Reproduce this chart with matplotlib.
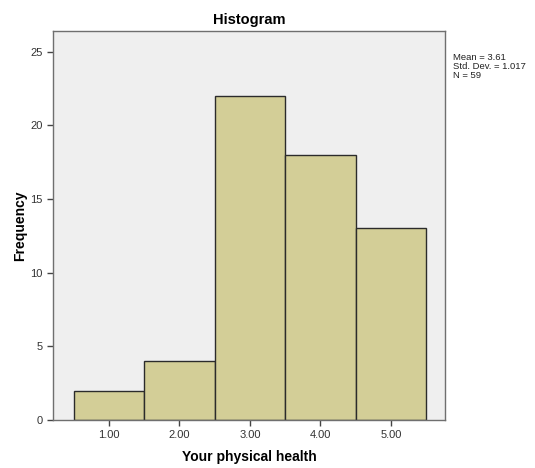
import matplotlib
matplotlib.use('Agg')
import matplotlib.pyplot as plt

# Histogram data
categories = [1.0, 2.0, 3.0, 4.0, 5.0]
frequencies = [2, 4, 22, 18, 13]
tick_labels = ['1.00', '2.00', '3.00', '4.00', '5.00']
y_ticks = [0, 5, 10, 15, 20, 25]
stats_text = 'Mean = 3.61\nStd. Dev. = 1.017\nN = 59'

plt.rcParams['font.family'] = ['Liberation Sans', 'DejaVu Sans']

fig = plt.figure(figsize=(5.35, 4.68), dpi=100)
ax = fig.add_axes([0.099, 0.1026, 0.733, 0.8314])
ax.set_facecolor('#efefef')

ax.bar(categories, frequencies, width=1.0, color='#d3ce97',
       edgecolor='#2b2b2b', linewidth=1.0)

ax.set_xlim(0.206, 5.77)
ax.set_ylim(0, 26.4)
ax.set_xticks(categories)
ax.set_xticklabels(tick_labels)
ax.set_yticks(y_ticks)
ax.tick_params(axis='both', direction='out', length=4, width=1,
               color='#444444', labelsize=8, labelcolor='#333333')
for s in ax.spines.values():
    s.set_color('#6f6f6f')
    s.set_linewidth(1.0)

ax.set_title('Histogram', fontsize=10.5, fontweight='bold', pad=5)
ax.set_xlabel('Your physical health', fontsize=10, fontweight='bold', labelpad=7)
ax.set_ylabel('Frequency', fontsize=10, fontweight='bold', labelpad=2)

fig.text(0.846, 0.886, stats_text, fontsize=6.8, va='top', ha='left',
         linespacing=0.95, color='#222222')

fig.savefig('out.png', dpi=100)
plt.close(fig)
